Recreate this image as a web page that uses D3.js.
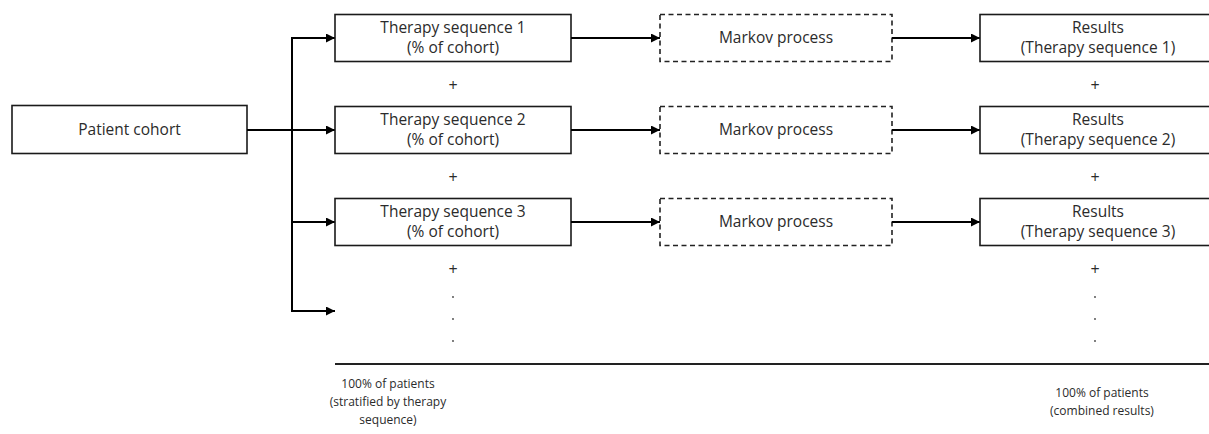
<!DOCTYPE html>
<html>
<head>
<meta charset="utf-8">
<script src="https://cdn.jsdelivr.net/npm/d3@7"></script>
<style>
  body { margin: 0; background: #fff; }
  text { font-family: "Open Sans", sans-serif; font-size: 15.5px; fill: #2b2b2b; }
  text.footer { font-size: 12px; }
</style>
</head>
<body>
<div id="chart"></div>
<script>
var svgWidth = 1209;
var svgHeight = 434;

// diagram content
var sourceLabel = "Patient cohort";
var sequenceLabels = [["Therapy sequence 1", "(% of cohort)"],
                      ["Therapy sequence 2", "(% of cohort)"],
                      ["Therapy sequence 3", "(% of cohort)"]];
var processLabels = ["Markov process", "Markov process", "Markov process"];
var resultLabels = [["Results", "(Therapy sequence 1)"],
                    ["Results", "(Therapy sequence 2)"],
                    ["Results", "(Therapy sequence 3)"]];
var leftFooter = ["100% of patients", "(stratified by therapy", "sequence)"];
var rightFooter = ["100% of patients", "(combined results)"];
var rowCount = 4; // 3 sequences + the open "..." branch

var svg = d3.select("#chart")
  .append("svg")
  .attr("width", svgWidth)
  .attr("height", svgHeight);

// arrow head
svg.append("defs").append("marker")
  .attr("id", "arrow")
  .attr("viewBox", "0 0 10 10")
  .attr("refX", 10)
  .attr("refY", 5)
  .attr("markerWidth", 9)
  .attr("markerHeight", 9)
  .attr("markerUnits", "userSpaceOnUse")
  .attr("orient", "auto")
  .append("path")
  .attr("d", "M0,0 L10,5 L0,10 Z")
  .attr("fill", "#000");

// row centres
var y = d3.scaleLinear().domain([0, rowCount - 1]).range([38, 314]);
var boxH = 47;

// columns
var col = {
  source: { x: 12, w: 235 },
  seq: { x: 335, w: 236 },
  proc: { x: 660, w: 232 },
  res: { x: 980, w: 236 }
};
var trunkX = 292;

function box(c, i, dashed) {
  svg.append("rect")
    .attr("x", c.x)
    .attr("y", y(i) - boxH / 2)
    .attr("width", c.w)
    .attr("height", boxH)
    .attr("fill", "#fff")
    .attr("stroke", dashed ? "#222" : "#1a1a1a")
    .attr("stroke-width", 1.6)
    .attr("stroke-dasharray", dashed ? "5,3.5" : null);
}

function label(cx, cy, lines, gap, cls) {
  gap = gap || 20;
  var t = svg.append("text")
    .attr("class", cls || null)
    .attr("text-anchor", "middle");
  var off = -(lines.length - 1) * gap / 2;
  lines.forEach(function(l, k) {
    t.append("tspan")
      .attr("x", cx)
      .attr("y", cy + off + k * gap)
      .attr("dy", "0.35em")
      .text(l);
  });
}

function arrow(x1, y1, x2, y2) {
  svg.append("line")
    .attr("x1", x1).attr("y1", y1)
    .attr("x2", x2).attr("y2", y2)
    .attr("stroke", "#000")
    .attr("stroke-width", 2)
    .attr("marker-end", "url(#arrow)");
}

// source box
var srcY = y(1);
svg.append("rect")
  .attr("x", col.source.x)
  .attr("y", srcY - boxH / 2 - 1)
  .attr("width", col.source.w)
  .attr("height", boxH + 1)
  .attr("fill", "#fff")
  .attr("stroke", "#1a1a1a")
  .attr("stroke-width", 1.6);
label(col.source.x + col.source.w / 2, srcY, [sourceLabel]);

// trunk line
svg.append("line")
  .attr("x1", trunkX).attr("y1", y(0))
  .attr("x2", trunkX).attr("y2", y(rowCount - 1) - 3)
  .attr("stroke", "#000")
  .attr("stroke-width", 2);
svg.append("line")
  .attr("x1", col.source.x + col.source.w).attr("y1", srcY)
  .attr("x2", trunkX).attr("y2", srcY)
  .attr("stroke", "#000")
  .attr("stroke-width", 2);

// branches
d3.range(rowCount).forEach(function(i) {
  var ry = i === rowCount - 1 ? y(i) - 3 : y(i);
  arrow(trunkX - 1, ry, col.seq.x, ry);
});

sequenceLabels.forEach(function(lines, i) {
  box(col.seq, i, false);
  label(col.seq.x + col.seq.w / 2, y(i), lines);
  arrow(col.seq.x + col.seq.w, y(i), col.proc.x, y(i));

  box(col.proc, i, true);
  label(col.proc.x + col.proc.w / 2, y(i), [processLabels[i]]);
  arrow(col.proc.x + col.proc.w, y(i), col.res.x, y(i));

  box(col.res, i, false);
  label(col.res.x + col.res.w / 2, y(i), resultLabels[i]);
});

// plus signs and dots
var seqCx = col.seq.x + col.seq.w / 2;
var resCx = col.res.x + col.res.w / 2 - 3;
[seqCx, resCx].forEach(function(cx) {
  d3.range(sequenceLabels.length).forEach(function(i) {
    svg.append("text")
      .attr("x", cx)
      .attr("y", (y(i) + y(i + 1)) / 2 + 1)
      .attr("dy", "0.35em")
      .attr("text-anchor", "middle")
      .style("font-size", "16px")
      .text("+");
  });
  [297, 319, 341].forEach(function(dy) {
    svg.append("circle")
      .attr("cx", cx)
      .attr("cy", dy)
      .attr("r", 0.9)
      .attr("fill", "#444");
  });
});

// total line
svg.append("line")
  .attr("x1", col.seq.x).attr("y1", 364)
  .attr("x2", svgWidth).attr("y2", 364)
  .attr("stroke", "#222")
  .attr("stroke-width", 2);

label(seqCx - 65, 402, leftFooter, 18, "footer");
label(col.res.x + col.res.w / 2 + 4, 402, rightFooter, 18, "footer");
</script>
</body>
</html>
